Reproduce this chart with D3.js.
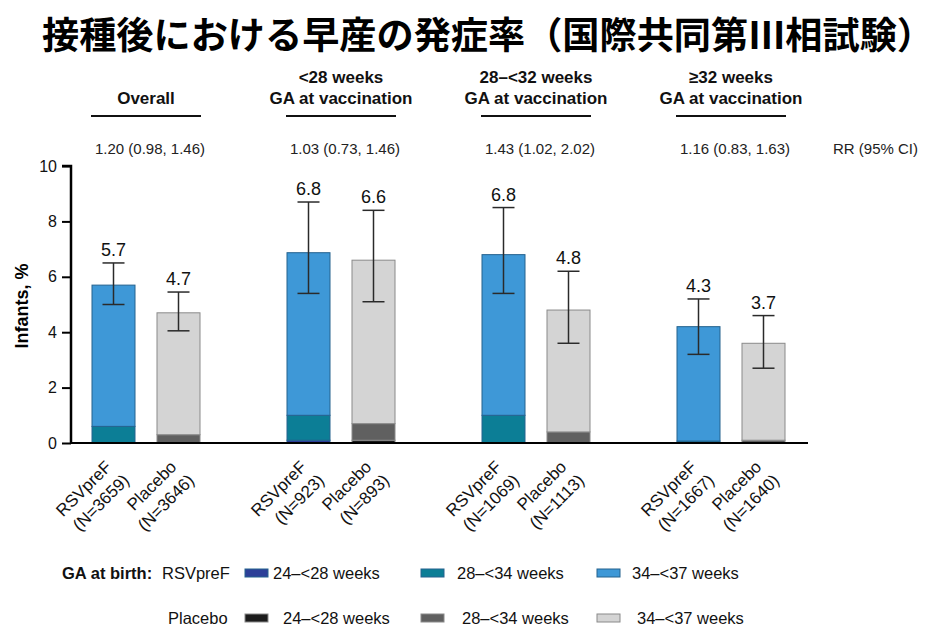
<!DOCTYPE html>
<html>
<head>
<meta charset="utf-8">
<script src="https://cdn.jsdelivr.net/npm/d3@7"></script>
<style>
  body { margin: 0; background: #fff; }
  svg { display: block; font-family: "Liberation Sans", Arial, sans-serif; }
</style>
</head>
<body>
<svg id="chart" width="944" height="633"></svg>
<script>
const TITLE = '接種後における早産の発症率（国際共同第Ⅲ相試験）'

const groups = ['overall', 'lt28', '28to32', 'ge32']
const groupHeaders = [
  ['Overall'],
  ['<28 weeks', 'GA at vaccination'],
  ['28–<32 weeks', 'GA at vaccination'],
  ['≥32 weeks', 'GA at vaccination'],
]
const rrTexts = ['1.20 (0.98, 1.46)', '1.03 (0.73, 1.46)', '1.43 (1.02, 2.02)', '1.16 (0.83, 1.63)']

const arms = ['RSVpreF', 'Placebo']
const nCounts = {
  RSVpreF: [3659, 923, 1069, 1667],
  Placebo: [3646, 893, 1113, 1640],
}

// stacked parts by GA at birth (%), and totals
const ga24 = {
  RSVpreF: [0, 0.1, 0, 0],
  Placebo: [0, 0.1, 0, 0],
}
const ga28 = {
  RSVpreF: [0.6, 0.9, 1.0, 0.07],
  Placebo: [0.3, 0.6, 0.4, 0.1],
}
const totals = {
  RSVpreF: [5.7, 6.87, 6.8, 4.2],
  Placebo: [4.7, 6.6, 4.8, 3.6],
}
const valueLabels = {
  RSVpreF: ['5.7', '6.8', '6.8', '4.3'],
  Placebo: ['4.7', '6.6', '4.8', '3.7'],
}
const ciLow = {
  RSVpreF: [5.0, 5.4, 5.4, 3.2],
  Placebo: [4.05, 5.1, 3.6, 2.7],
}
const ciHigh = {
  RSVpreF: [6.5, 8.7, 8.5, 5.2],
  Placebo: [5.45, 8.4, 6.2, 4.6],
}

const yTicks = [0, 2, 4, 6, 8, 10]
const legendLabels = ['24–<28 weeks', '28–<34 weeks', '34–<37 weeks']
const colors = {
  RSVpreF: ['#2c3f98', '#0c7e96', '#3e98d7'],
  Placebo: ['#1c1c1c', '#606060', '#d4d4d4'],
}
const strokes = { RSVpreF: '#24628e', Placebo: '#8a8a8a' }

const svg = d3.select('#chart')

// title
svg.append('text')
  .attr('x', 42)
  .attr('y', 33)
  .attr('dominant-baseline', 'central')
  .attr('textLength', 892)
  .attr('lengthAdjust', 'spacingAndGlyphs')
  .style('font-family', '"Noto Sans CJK JP", sans-serif')
  .style('font-weight', 700)
  .style('font-size', '37px')
  .text(TITLE)

const y = d3.scaleLinear().domain([0, 10]).range([443, 166])
const x = d3.scaleBand().domain(groups).range([48.5, 828.5])
const xArm = d3.scalePoint().domain(arms).range([65, 130])
const barW = 43
const axisX = 71

// axes
const yAxis = svg.append('g')
  .attr('transform', `translate(${axisX}, 0)`)
  .call(d3.axisLeft(y).tickValues(yTicks).tickSize(9).tickPadding(5))
yAxis.select('.domain').attr('stroke-width', 2.5).attr('d', `M-9,${y(10)}H0V${y(0)}`)
yAxis.selectAll('.tick line').attr('stroke-width', 2)
yAxis.selectAll('.tick text')
  .style('font-size', '16px')
  .style('font-family', '"Liberation Sans", Arial, sans-serif')
  .attr('fill', '#111')

svg.append('text')
  .attr('transform', `translate(28, 306) rotate(-90)`)
  .attr('text-anchor', 'middle')
  .style('font-weight', 700)
  .style('font-size', '18px')
  .text('Infants, %')

// bars
const barData = []
groups.forEach((g, i) => {
  arms.forEach((a) => {
    const parts = [ga24[a][i], ga28[a][i], totals[a][i] - ga24[a][i] - ga28[a][i]]
    let base = 0
    parts.forEach((v, k) => {
      barData.push({g, a, k, y0: base, y1: base + v})
      base += v
    })
  })
})

svg.append('g')
  .selectAll('rect')
  .data(barData.filter((d) => d.y1 > d.y0))
  .join('rect')
  .attr('x', (d) => x(d.g) + xArm(d.a) - barW / 2)
  .attr('width', barW)
  .attr('y', (d) => y(d.y1))
  .attr('height', (d) => y(d.y0) - y(d.y1))
  .attr('fill', (d) => colors[d.a][d.k])
  .attr('stroke', (d) => strokes[d.a])
  .attr('stroke-width', 1)

// x axis line
svg.append('line')
  .attr('x1', axisX).attr('x2', 808)
  .attr('y1', y(0)).attr('y2', y(0))
  .attr('stroke', '#000').attr('stroke-width', 2)

// error bars + value labels
const cap = 22
groups.forEach((g, i) => {
  arms.forEach((a) => {
    const cx = x(g) + xArm(a)
    const eg = svg.append('g').attr('stroke', '#2a2a2a').attr('stroke-width', 1.5)
    eg.append('line').attr('x1', cx).attr('x2', cx).attr('y1', y(ciLow[a][i])).attr('y2', y(ciHigh[a][i]))
    eg.append('line').attr('x1', cx - cap / 2).attr('x2', cx + cap / 2).attr('y1', y(ciLow[a][i])).attr('y2', y(ciLow[a][i]))
    eg.append('line').attr('x1', cx - cap / 2).attr('x2', cx + cap / 2).attr('y1', y(ciHigh[a][i])).attr('y2', y(ciHigh[a][i]))

    svg.append('text')
      .attr('x', cx)
      .attr('y', y(ciHigh[a][i]) - 7)
      .attr('text-anchor', 'middle')
      .style('font-size', '18px')
      .attr('fill', '#111')
      .text(valueLabels[a][i])

    // rotated category labels
    const t = svg.append('text')
      .attr('transform', `translate(${cx - 1}, 468) rotate(-45)`)
      .attr('text-anchor', 'end')
      .style('font-size', '17px')
      .attr('fill', '#111')
    t.append('tspan').attr('x', 0).attr('dy', 0).text(a)
    t.append('tspan').attr('x', 3).attr('dy', 22).text(`(N=${nCounts[a][i]})`)
  })

  // group headers
  const hx = x(g) + x.bandwidth() / 2
  const lines = groupHeaders[i]
  lines.forEach((s, j) => {
    svg.append('text')
      .attr('x', hx)
      .attr('y', 104 - (lines.length - 1 - j) * 21)
      .attr('text-anchor', 'middle')
      .style('font-weight', 700)
      .style('font-size', '17px')
      .attr('fill', '#111')
      .text(s)
  })
  svg.append('line')
    .attr('x1', hx - 55).attr('x2', hx + 55)
    .attr('y1', 116).attr('y2', 116)
    .attr('stroke', '#111').attr('stroke-width', 2)

  svg.append('text')
    .attr('x', hx + 4)
    .attr('y', 154)
    .attr('text-anchor', 'middle')
    .style('font-size', '15px')
    .attr('fill', '#222')
    .text(rrTexts[i])
})

svg.append('text')
  .attr('x', 833).attr('y', 154)
  .style('font-size', '15px')
  .attr('fill', '#222')
  .text('RR (95% CI)')

// legend
const legend = svg.append('g').style('font-size', '16.5px').attr('fill', '#111')
legend.append('text').attr('x', 62).attr('y', 579).style('font-weight', 700).text('GA at birth:')
const swatchX = [245, 421, 597]
const textX = {RSVpreF: [273, 457, 632], Placebo: [283, 462, 637]}
const rowY = {RSVpreF: 573, Placebo: 618}
const armLabelX = {RSVpreF: 162, Placebo: 168}
arms.forEach((a) => {
  legend.append('text').attr('x', armLabelX[a]).attr('y', rowY[a] + 6).text(a)
  legendLabels.forEach((lab, k) => {
    legend.append('rect')
      .attr('x', swatchX[k]).attr('y', rowY[a] - 4)
      .attr('width', 23).attr('height', 8)
      .attr('fill', colors[a][k])
      .attr('stroke', strokes[a]).attr('stroke-width', 1)
    legend.append('text').attr('x', textX[a][k]).attr('y', rowY[a] + 6).text(lab)
  })
})
</script>
</body>
</html>
